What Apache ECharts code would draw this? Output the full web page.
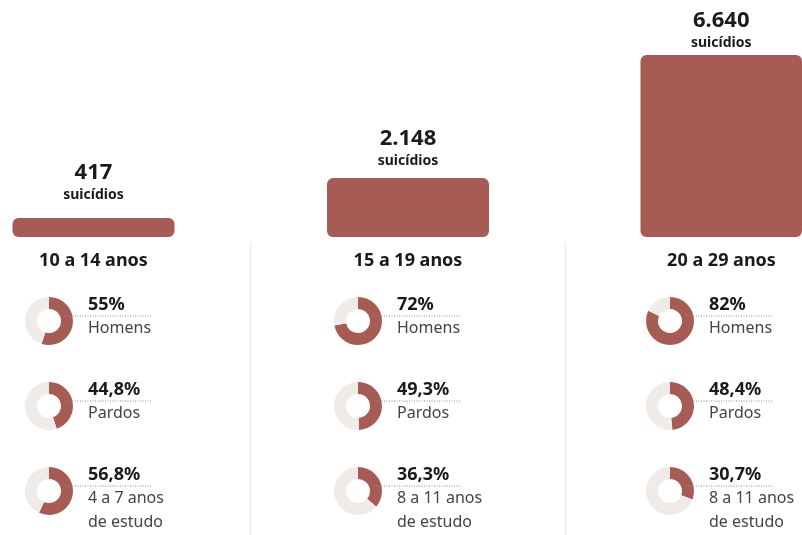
<!DOCTYPE html>
<html>
<head>
<meta charset="utf-8">
<script src="https://cdn.jsdelivr.net/npm/echarts@6/dist/echarts.min.js"></script>
<style>
  html, body { margin: 0; padding: 0; background: #ffffff; }
  #chart { width: 802px; height: 535px; }
</style>
</head>
<body>
<div id="chart"></div>
<script>
// Suicídios por faixa etária e perfil das vítimas
const faixas = ['10 a 14 anos', '15 a 19 anos', '20 a 29 anos'];
const suicidios = [417, 2148, 6640];
const suicidiosTexto = ['417', '2.148', '6.640'];

const pctHomens = [55, 72, 82];
const pctPardos = [44.8, 49.3, 48.4];
const pctEstudo = [56.8, 36.3, 30.7];
const rotuloEstudo = ['4 a 7 anos\nde estudo', '8 a 11 anos\nde estudo', '8 a 11 anos\nde estudo'];

const COR = '#a65c55';
const COR_FUNDO = '#f1ebe8';
const FONTE = 'Noto Sans';

// layout of the three columns
const barCenters = [93.5, 408, 721.5];
const barWidth = 162;
const labelGap = [15, 9, 4];
const donutCx = [49, 358, 670];
const rowsY = [321, 406, 491];
const separators = [250.5, 565.5];

const fmtPct = v => v.toLocaleString('pt-BR', { maximumFractionDigits: 1 }) + '%';

const chart = echarts.init(document.getElementById('chart'), null, { renderer: 'canvas' });

const grids = [], xAxes = [], yAxes = [], series = [];
faixas.forEach((f, i) => {
  grids.push({ left: barCenters[i] - barWidth / 2, width: barWidth, top: 55, bottom: 298 });
  xAxes.push({ type: 'category', gridIndex: i, data: [f], show: false });
  yAxes.push({ type: 'value', gridIndex: i, min: 0, max: 6640, show: false });
  series.push({
    type: 'bar', xAxisIndex: i, yAxisIndex: i,
    data: [suicidios[i]], barWidth: '100%', barMinHeight: 19,
    itemStyle: { color: COR, borderRadius: 6 },
    silent: true,
    label: {
      show: true, position: 'top', distance: labelGap[i],
      formatter: () => '{n|' + suicidiosTexto[i] + '}\n{s|suicídios}',
      rich: {
        n: { fontFamily: FONTE, fontWeight: 'bold', fontSize: 22, color: '#1a1a1a', lineHeight: 28 },
        s: { fontFamily: FONTE, fontWeight: 'bold', fontSize: 14, color: '#1a1a1a', lineHeight: 16 }
      }
    }
  });
});

const graphic = [];
separators.forEach(x => graphic.push({
  type: 'line', silent: true,
  shape: { x1: x, y1: 242, x2: x, y2: 535 },
  style: { stroke: '#ececec', lineWidth: 1.5 }
}));

faixas.forEach((f, i) => {
  graphic.push({
    type: 'text', silent: true, x: barCenters[i], y: 261,
    style: { text: f, fontFamily: FONTE, fontWeight: 'bold', fontSize: 18, fill: '#1a1a1a',
             align: 'center', verticalAlign: 'middle' }
  });
  const linhas = [
    [pctHomens[i], 'Homens'],
    [pctPardos[i], 'Pardos'],
    [pctEstudo[i], rotuloEstudo[i]]
  ];
  linhas.forEach(([v, rot], r) => {
    const cx = donutCx[i], cy = rowsY[r];
    series.push({
      type: 'pie', silent: true, center: [cx, cy], radius: [12, 24],
      startAngle: 90, clockwise: true, animation: false,
      label: { show: false }, labelLine: { show: false },
      data: [
        { value: v, itemStyle: { color: COR } },
        { value: 100 - v, itemStyle: { color: COR_FUNDO } }
      ]
    });
    graphic.push({
      type: 'line', silent: true, z: 10,
      shape: { x1: cx + 16, y1: cy - 5, x2: cx + 102, y2: cy - 5 },
      style: { stroke: '#8a8a8a', lineWidth: 1, lineDash: [1, 1.5] }
    });
    graphic.push({
      type: 'text', silent: true, x: cx + 39, y: cy - 16,
      style: { text: fmtPct(v), fontFamily: FONTE, fontWeight: 'bold', fontSize: 18, fill: '#1a1a1a',
               align: 'left', verticalAlign: 'middle' }
    });
    graphic.push({
      type: 'text', silent: true, x: cx + 39, y: cy - 5,
      style: { text: rot, fontFamily: FONTE, fontSize: 16, fill: '#444444', lineHeight: 24,
               align: 'left', verticalAlign: 'top' }
    });
  });
});

chart.setOption({
  animation: false,
  grid: grids, xAxis: xAxes, yAxis: yAxes,
  series: series,
  graphic: graphic
});
</script>
</body>
</html>
